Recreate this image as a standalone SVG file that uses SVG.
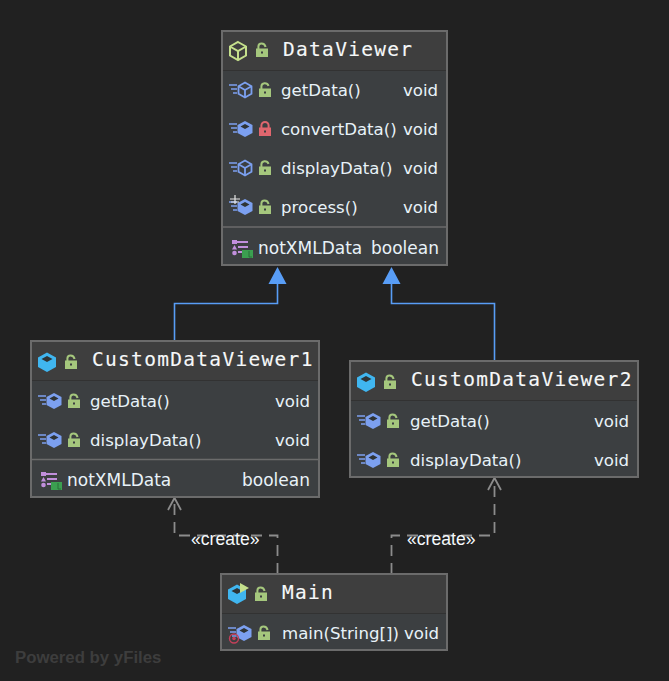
<svg xmlns="http://www.w3.org/2000/svg" width="669" height="681" viewBox="0 0 669 681">
<style>
.box{fill:#3c3f41;stroke:#6b6b6b;stroke-width:2}
.head{fill:#3e3e3e}
.hl{stroke:#323232;stroke-width:1.2}
.sep{stroke:#6b6b6b;stroke-width:1.5}
.t{font-family:"DejaVu Sans Mono",monospace;font-size:19.5px;fill:#f6f8f9;stroke:#f6f8f9;stroke-width:.12px;letter-spacing:1.3px}
.m{font-family:"DejaVu Sans",sans-serif;font-size:16.6px;fill:#e8f2f8}
.f{font-size:17px}
.inh{fill:none;stroke:#589df6;stroke-width:1.6}
.arr{fill:#589df6}
.dep{fill:none;stroke:#8c8c8c;stroke-width:1.8;stroke-dasharray:11 7}
.open{fill:none;stroke:#8c8c8c;stroke-width:1.8}
.lbl{font-family:"Liberation Sans",Arial,sans-serif;font-size:17.6px;fill:#f4f8fb}
.wm{font-family:"Liberation Sans",Arial,sans-serif;font-size:16.8px;font-weight:bold;fill:#3d3d3d}
</style>
<defs>
<g id="lockg"><path d="M-3.6 -1V-3.5C-3.6 -7.5 2 -8 3.6 -4.2" fill="none" stroke="#a5c77d" stroke-width="2"/><rect x="-6" y="-1.5" width="12" height="8.5" fill="#a5c77d"/><rect x="-1" y="1.5" width="2" height="2" fill="#3c3f41"/></g>
<g id="lockc"><path d="M-3.6 -1V-3.5A3.6 3.6 0 0 1 3.6 -3.5V-1" fill="none" stroke="#e0666e" stroke-width="2"/><rect x="-6" y="-1.5" width="12" height="8.5" fill="#e0666e"/><rect x="-1" y="1.5" width="2" height="2" fill="#3c3f41"/></g>
<g id="lockcl"><path d="M-3.6 -1V-3.5C-3.6 -7.5 2.5 -8 3.6 -3" fill="none" stroke="#a5c77d" stroke-width="2"/><rect x="-6" y="-1.5" width="12" height="8.5" fill="#a5c77d"/><rect x="-1" y="1.5" width="2" height="2" fill="#3c3f41"/></g>
<g id="cubeA"><path d="M0 -9L8 -4.500V4.500L0 9L-8 4.500V-4.500Z" fill="none" stroke="#c5e08c" stroke-width="2"/><path d="M-8 -4.500L0 0L8 -4.500M0 0V9" fill="none" stroke="#c5e08c" stroke-width="2"/></g>
<g id="cubeB"><path d="M0 -9.500L9 -4.500V5L0 10L-9 5V-4.500Z" fill="#40b6f0"/><path d="M0 -6L5.500 -3L0 0L-5.500 -3Z" fill="#2f3436"/></g>
<g id="mStripes"><path d="M-16 -5H-8M-14 -1H-8M-12 3H-8" stroke="#7ca0f0" stroke-width="1.7" fill="none"/></g>
<g id="mA"><use href="#mStripes"/><path d="M0 -7.500L6.500 -3.700V3.700L0 7.500L-6.500 3.700V-3.700Z" fill="none" stroke="#7ca0f0" stroke-width="1.8"/><path d="M-6.500 -3.700L0 0L6.500 -3.700M0 0V7.500" fill="none" stroke="#7ca0f0" stroke-width="1.8"/></g>
<g id="mS"><use href="#mStripes"/><path d="M0 -8L7.500 -4V4L0 8L-7.500 4V-4Z" fill="#7ca0f0"/><path d="M0 -5L4.500 -2.500L0 0L-4.500 -2.500Z" fill="#2f3436"/></g>
<g id="fld"><path d="M-4 -6H7M-3 -1H7M-3 4H1" stroke="#c18fdc" stroke-width="2" fill="none"/><rect x="-9" y="-8" width="5" height="4" fill="#c18fdc"/><path d="M-6.500 -3L-4 1.500H-9Z" fill="#c18fdc"/><circle cx="-6.500" cy="5" r="2.300" fill="#c18fdc"/><rect x="1" y="2" width="11" height="8" fill="#3b9f50"/><path d="M8 3V9H11" stroke="#2b6f38" fill="none"/></g>
</defs>
<rect width="669" height="681" fill="#212121"/>
<text class="wm" x="15" y="663">Powered by yFiles</text>
<g id="connectors">
<path class="inh" d="M174.500 341V303.500H277.500V284"/>
<path class="arr" d="M277.500 267L268.500 284H286.500Z"/>
<path class="inh" d="M494.500 361V303.500H391.500V284"/>
<path class="arr" d="M391.500 267L382.500 284H400.500Z"/>
<path class="dep" d="M277.500 574V535.500H174.500V500"/>
<path class="open" d="M168 510L174.500 498L181 510"/>
<path class="dep" d="M391.500 574V535.500H494.500V480"/>
<path class="open" d="M488 490L494.500 478L501 490"/>
<text class="lbl" x="191" y="545">«create»</text>
<text class="lbl" x="407" y="545">«create»</text>
</g>
<g id="DataViewer">
<rect class="box" x="222" y="31" width="225" height="234"/>
<rect class="head" x="223" y="32" width="223" height="38"/>
<path class="hl" d="M223 70.500H446"/>
<path class="sep" d="M223 227H446"/>
<use href="#cubeA" x="238" y="51"/><use href="#lockcl" x="262" y="50"/>
<text class="t" x="283" y="56">DataViewer</text>
<use href="#mA" x="245" y="90"/><use href="#lockg" x="265" y="90"/>
<text class="m" x="281" y="95.500">getData()</text><text class="m" x="403" y="95.500">void</text>
<use href="#mS" x="245" y="129"/><use href="#lockc" x="265" y="129"/>
<text class="m" x="281" y="134.500">convertData()</text><text class="m" x="403" y="134.500">void</text>
<use href="#mA" x="245" y="168"/><use href="#lockg" x="265" y="168"/>
<text class="m" x="281" y="173.500">displayData()</text><text class="m" x="403" y="173.500">void</text>
<use href="#mS" x="245" y="207"/><use href="#lockcl" x="265" y="207"/>
<path d="M230 199H240M235 195V204M231 202H239" stroke="#e6e6e6" stroke-width="1.2" fill="none"/>
<text class="m" x="281" y="212.500">process()</text><text class="m" x="403" y="212.500">void</text>
<use href="#fld" x="241" y="248"/>
<text class="m f" x="258" y="253.500">notXMLData</text><text class="m f" x="371" y="253.500">boolean</text>
</g>
<g id="CustomDataViewer1">
<rect class="box" x="31" y="341" width="288" height="156"/>
<rect class="head" x="32" y="342" width="286" height="38"/>
<path class="hl" d="M32 380.500H318"/>
<path class="sep" d="M32 459.500H318"/>
<use href="#cubeB" x="47" y="362"/><use href="#lockcl" x="71" y="362"/>
<text class="t" x="92" y="366">CustomDataViewer1</text>
<use href="#mS" x="54" y="401"/><use href="#lockcl" x="74" y="401"/>
<text class="m" x="90" y="406.500">getData()</text><text class="m" x="275" y="406.500">void</text>
<use href="#mS" x="54" y="440"/><use href="#lockcl" x="74" y="440"/>
<text class="m" x="90" y="445.500">displayData()</text><text class="m" x="275" y="445.500">void</text>
<use href="#fld" x="50" y="480"/>
<text class="m f" x="67" y="485.500">notXMLData</text><text class="m f" x="242" y="485.500">boolean</text>
</g>
<g id="CustomDataViewer2">
<rect class="box" x="350" y="361" width="288" height="116"/>
<rect class="head" x="351" y="362" width="286" height="38"/>
<path class="hl" d="M351 400.500H637"/>
<use href="#cubeB" x="366" y="382"/><use href="#lockcl" x="390" y="382"/>
<text class="t" x="411" y="386">CustomDataViewer2</text>
<use href="#mS" x="373" y="421"/><use href="#lockcl" x="393" y="421"/>
<text class="m" x="410" y="426.500">getData()</text><text class="m" x="594" y="426.500">void</text>
<use href="#mS" x="373" y="460"/><use href="#lockcl" x="393" y="460"/>
<text class="m" x="410" y="465.500">displayData()</text><text class="m" x="594" y="465.500">void</text>
</g>
<g id="Main">
<rect class="box" x="221" y="574" width="226" height="76"/>
<rect class="head" x="222" y="575" width="224" height="38"/>
<path class="hl" d="M222 613.500H446"/>
<use href="#cubeB" x="237" y="594"/><path d="M240 583L249 588L240 593Z" fill="#c5e08c"/><use href="#lockcl" x="261" y="594"/>
<text class="t" x="282" y="599">Main</text>
<use href="#mS" x="244" y="633"/><use href="#lockcl" x="264" y="633"/>
<circle cx="234" cy="638.500" r="4.500" fill="none" stroke="#c4405a" stroke-width="1.400"/><circle cx="234" cy="638.500" r="1.800" fill="#c4405a"/>
<text class="m" x="282" y="638.500">main(String[])</text><text class="m" x="404" y="638.500">void</text>
</g>
</svg>
